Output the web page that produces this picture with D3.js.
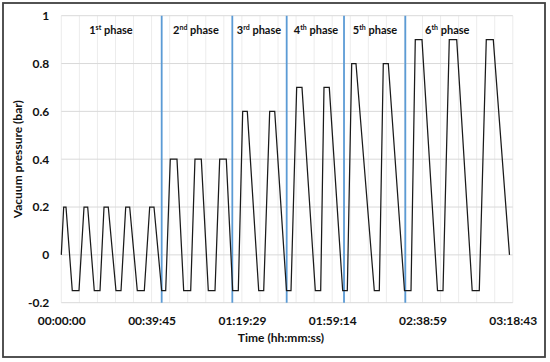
<!DOCTYPE html>
<html>
<head>
<meta charset="utf-8">
<script src="https://cdn.jsdelivr.net/npm/d3@7/dist/d3.min.js"></script>
<style>
  html, body { margin: 0; padding: 0; background: #fff; }
  svg { display: block; }
  text { font-family: Lato, "Open Sans", sans-serif; font-weight: bold; fill: #111; }
</style>
</head>
<body>
<svg id="chart" width="550" height="362"></svg>
<script>
// ---- Data (time in seconds, pressure in bar) ----
const timeSec = [
  0, 63, 124, 290, 467, 600, 697, 871, 1022, 1128, 1241, 1444, 1577, 1701, 1806,
  2007, 2192, 2334, 2448, 2651, 2757,
  2878, 3055, 3232, 3417, 3530, 3697, 3882, 4059, 4183, 4357, 4526, 4674,
  4790, 4912, 5213, 5345, 5503, 5636, 5947, 6066,
  6216, 6356, 6708, 6850, 6937, 7077, 7431, 7553,
  7669, 7782, 8266, 8398, 8503, 8635, 9063, 9235,
  9348, 9525, 9935, 10080, 10246, 10442, 10851, 11038, 11223, 11408, 11836
];
const pressure = [
  0, 0.2, 0.2, -0.15, -0.15, 0.2, 0.2, -0.15, -0.15, 0.2, 0.2, -0.15, -0.15, 0.2, 0.2,
  -0.15, -0.15, 0.2, 0.2, -0.15, -0.15,
  0.4, 0.4, -0.15, -0.15, 0.4, 0.4, -0.15, -0.15, 0.4, 0.4, -0.15, -0.15,
  0.6, 0.6, -0.15, -0.15, 0.6, 0.6, -0.15, -0.15,
  0.7, 0.7, -0.15, -0.15, 0.7, 0.7, -0.15, -0.15,
  0.8, 0.8, -0.15, -0.15, 0.8, 0.8, -0.15, -0.15,
  0.9, 0.9, -0.15, -0.15, 0.9, 0.9, -0.15, -0.15, 0.9, 0.9, 0
];
const phaseBoundaries = [2651, 4516, 5952, 7466, 9085];
const phaseNames = ["1", "2", "3", "4", "5", "6"];
const phaseSuffix = ["st", "nd", "rd", "th", "th", "th"];
const phaseLabelTimes = [1312, 3556, 5221, 6726, 8284, 10193];
const yTicks = [-0.2, 0, 0.2, 0.4, 0.6, 0.8, 1];
const xMaxDays = 0.138;
const xMajorDays = 0.0276;

// ---- Layout ----
const svg = d3.select("#chart");
const mLeft = 61.3, mRight = 512.8, mTop = 15.7, mBottom = 302.7;

const xMax = xMaxDays * 86400;
const xMajor = xMajorDays * 86400;
const x = d3.scaleLinear().domain([0, xMax]).range([mLeft, mRight]);
const y = d3.scaleLinear().domain([-0.2, 1]).range([mBottom, mTop]);

// outer border
svg.append("rect")
  .attr("x", 3).attr("y", 3).attr("width", 542).attr("height", 354)
  .attr("fill", "#fff").attr("stroke", "#404040").attr("stroke-width", 1.8);

// minor vertical gridlines
const minorTicks = d3.range(0, 26).map(i => i * xMajor / 5);
svg.append("g").selectAll("line").data(minorTicks).join("line")
  .attr("x1", d => x(d)).attr("x2", d => x(d))
  .attr("y1", y(1)).attr("y2", y(-0.2))
  .attr("stroke", "#ececec").attr("stroke-width", 1);

// horizontal gridlines
svg.append("g").selectAll("line").data(yTicks).join("line")
  .attr("x1", mLeft).attr("x2", mRight)
  .attr("y1", d => y(d)).attr("y2", d => y(d))
  .attr("stroke", "#d9d9d9").attr("stroke-width", 1);

// axes (text only)
const fmt = s => {
  s = Math.round(s);
  const h = Math.floor(s / 3600), m = Math.floor((s % 3600) / 60), sec = s % 60;
  const p = v => String(v).padStart(2, "0");
  return p(h) + ":" + p(m) + ":" + p(sec);
};
const xAxis = d3.axisBottom(x)
  .tickValues(d3.range(0, 6).map(i => i * xMajor))
  .tickFormat(fmt).tickSize(0).tickPadding(14);
const gx = svg.append("g").attr("transform", `translate(0,${mBottom})`).call(xAxis);
gx.select(".domain").remove();
gx.selectAll("text").attr("font-size", 12).attr("font-family", "Lato, sans-serif")
  .attr("font-weight", "bold").attr("fill", "#111");

const yAxis = d3.axisLeft(y).tickValues(yTicks)
  .tickFormat(d => d === 0 ? "0" : String(+d.toFixed(1))).tickSize(0).tickPadding(12);
const gy = svg.append("g").attr("transform", `translate(${mLeft},0)`).call(yAxis);
gy.select(".domain").remove();
gy.selectAll("text").attr("font-size", 12).attr("font-family", "Lato, sans-serif")
  .attr("font-weight", "bold").attr("fill", "#111");

// phase boundary lines
svg.append("g").selectAll("line").data(phaseBoundaries).join("line")
  .attr("x1", d => x(d)).attr("x2", d => x(d))
  .attr("y1", y(1)).attr("y2", y(-0.2))
  .attr("stroke", "#5b9bd5").attr("stroke-width", 1.8);

// waveform
const pts = timeSec.map((t, i) => [t, pressure[i]]);
svg.append("path").datum(pts)
  .attr("fill", "none").attr("stroke", "#1a1a1a").attr("stroke-width", 1.25)
  .attr("stroke-linejoin", "miter")
  .attr("d", d3.line().x(d => x(d[0])).y(d => y(d[1])));

// phase labels
const pl = svg.append("g").selectAll("text").data(phaseNames).join("text")
  .attr("x", (d, i) => x(phaseLabelTimes[i]))
  .attr("y", 34)
  .attr("text-anchor", "middle")
  .attr("font-size", 11);
pl.append("tspan").text(d => d);
pl.append("tspan").text((d, i) => phaseSuffix[i])
  .attr("font-size", 7).attr("dy", -4);
pl.append("tspan").text(" phase").attr("dy", 4);

// axis titles
svg.append("text").attr("x", 281).attr("y", 342)
  .attr("text-anchor", "middle").attr("font-size", 12)
  .text("Time (hh:mm:ss)");
svg.append("text")
  .attr("transform", `translate(22,${(mTop + mBottom) / 2}) rotate(-90)`)
  .attr("text-anchor", "middle").attr("font-size", 12)
  .text("Vacuum pressure (bar)");
</script>
</body>
</html>
